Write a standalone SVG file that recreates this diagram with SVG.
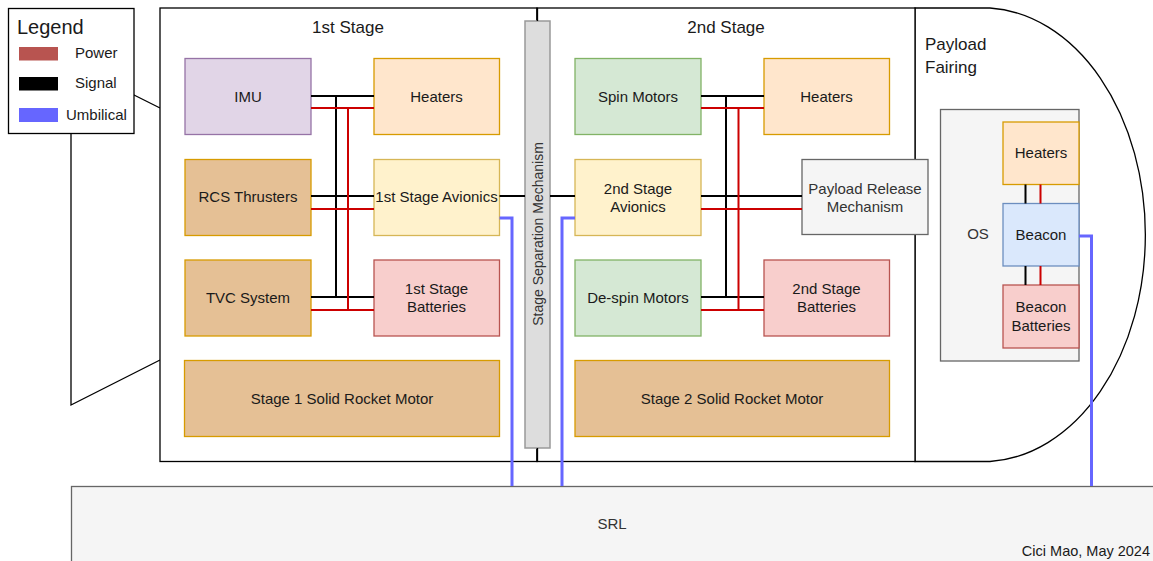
<svg xmlns="http://www.w3.org/2000/svg" width="1153" height="561" viewBox="0 0 1153 561">
  <style>
    text { font-family: "Liberation Sans", Arial, sans-serif; fill: #1a1a1a; }
    .lbl { font-size: 15px; text-anchor: middle; dominant-baseline: central; }
    .grey { fill: #333333; }
    .hdr { font-size: 17px; }
    .frame { fill: #ffffff; stroke: #000000; stroke-width: 1.3; }
    .purple { fill: #e1d5e7; stroke: #9673a6; stroke-width: 1.3; }
    .orange { fill: #ffe6cc; stroke: #d79b00; stroke-width: 1.3; }
    .tan { fill: #e5c095; stroke: #d79b00; stroke-width: 1.3; }
    .yellow { fill: #fff2cc; stroke: #d6b656; stroke-width: 1.3; }
    .pink { fill: #f8cecc; stroke: #b85450; stroke-width: 1.3; }
    .green { fill: #d5e8d4; stroke: #82b366; stroke-width: 1.3; }
    .blue { fill: #dae8fc; stroke: #6c8ebf; stroke-width: 1.3; }
    .light { fill: #f5f5f5; stroke: #666666; stroke-width: 1.3; }
    .sep { fill: #dddddd; stroke: #999999; stroke-width: 1.5; }
    .sig { fill: none; stroke: #000000; stroke-width: 2; }
    .pwr { fill: none; stroke: #cc0000; stroke-width: 2; }
    .umb { fill: none; stroke: #6666ff; stroke-width: 3; }
    .thin { fill: none; stroke: #000000; stroke-width: 1.3; }
  </style>

  <!-- launcher outline: nozzle, fairing -->
  <g id="nozzle">
    <path class="thin" d="M160,108 L71,63.5 L71,405 L160,360" fill="#ffffff"/>
  </g>
  <g id="fairing">
    <path class="frame" d="M915,8 L990,8 A163,227 0 0 1 990,461.5 L915,461.5 Z"/>
    <text class="hdr" x="925" y="50">Payload</text>
    <text class="hdr" x="925" y="73">Fairing</text>
  </g>

  <!-- stage frames -->
  <g id="stage1">
    <rect class="frame" x="160" y="8" width="377" height="453.5"/>
    <text class="hdr" x="348" y="33" text-anchor="middle">1st Stage</text>
  </g>
  <g id="stage2">
    <rect class="frame" x="537" y="8" width="378" height="453.5"/>
    <text class="hdr" x="726" y="33" text-anchor="middle">2nd Stage</text>
  </g>

  <!-- launch rail -->
  <g id="srl">
    <rect class="light" x="71.5" y="486.5" width="1100" height="100"/>
    <text class="lbl grey" x="612" y="523.5">SRL</text>
    <text x="1150" y="556" font-size="14.5" text-anchor="end">Cici Mao, May 2024</text>
  </g>

  <!-- stage 1 nodes -->
  <g id="imu"><rect class="purple" x="185" y="58.5" width="126" height="76"/><text class="lbl" x="248" y="96">IMU</text></g>
  <g id="heaters1"><rect class="orange" x="374" y="58.5" width="125.5" height="76"/><text class="lbl" x="436.5" y="96">Heaters</text></g>
  <g id="rcs"><rect class="tan" x="185" y="159.5" width="126" height="76"/><text class="lbl" x="248" y="196.5">RCS Thrusters</text></g>
  <g id="avionics1"><rect class="yellow" x="374" y="159.5" width="125.5" height="76"/><text class="lbl" x="436.5" y="196.5">1st Stage Avionics</text></g>
  <g id="tvc"><rect class="tan" x="185" y="260" width="126" height="76"/><text class="lbl" x="248" y="297">TVC System</text></g>
  <g id="batteries1"><rect class="pink" x="374" y="260" width="125.5" height="76"/><text class="lbl" x="436.5" y="288">1st Stage</text><text class="lbl" x="436.5" y="306">Batteries</text></g>
  <g id="srm1"><rect class="tan" x="184.5" y="360.5" width="315" height="76"/><text class="lbl" x="342" y="398">Stage 1 Solid Rocket Motor</text></g>

  <!-- separation mechanism -->
  <g id="separation">
    <rect class="sep" x="525" y="21" width="25" height="427"/>
    <text class="grey" font-size="14" text-anchor="middle" dominant-baseline="central" transform="translate(538,234) rotate(-90)">Stage Separation Mechanism</text>
  </g>

  <!-- stage 2 nodes -->
  <g id="spin"><rect class="green" x="575" y="58.5" width="126" height="76"/><text class="lbl" x="638" y="96">Spin Motors</text></g>
  <g id="heaters2"><rect class="orange" x="764" y="58.5" width="125.5" height="76"/><text class="lbl" x="826.5" y="96">Heaters</text></g>
  <g id="avionics2"><rect class="yellow" x="575" y="159.5" width="126" height="76"/><text class="lbl" x="638" y="188">2nd Stage</text><text class="lbl" x="638" y="206">Avionics</text></g>
  <g id="release"><rect class="light" x="802" y="159.5" width="126" height="75"/><text class="lbl grey" x="865" y="188">Payload Release</text><text class="lbl grey" x="865" y="206">Mechanism</text></g>
  <g id="despin"><rect class="green" x="575" y="260" width="126" height="76"/><text class="lbl" x="638" y="297">De-spin Motors</text></g>
  <g id="batteries2"><rect class="pink" x="764" y="260" width="125.5" height="76"/><text class="lbl" x="826.5" y="288">2nd Stage</text><text class="lbl" x="826.5" y="306">Batteries</text></g>
  <g id="srm2"><rect class="tan" x="575" y="360.5" width="314.5" height="76"/><text class="lbl" x="732" y="398">Stage 2 Solid Rocket Motor</text></g>

  <!-- payload -->
  <g id="os">
    <rect class="light" x="940.5" y="109.5" width="138.5" height="251.5"/>
    <text class="lbl grey" x="978" y="233.5">OS</text>
  </g>
  <g id="heaters-os"><rect class="orange" x="1003" y="122" width="76" height="62.5"/><text class="lbl" x="1041" y="152">Heaters</text></g>
  <g id="beacon"><rect class="blue" x="1003" y="203.5" width="76" height="62.5"/><text class="lbl" x="1041" y="234">Beacon</text></g>
  <g id="beacon-batteries"><rect class="pink" x="1003" y="285" width="76" height="63"/><text class="lbl" x="1041" y="306.5">Beacon</text><text class="lbl" x="1041" y="325">Batteries</text></g>

  <!-- connectors -->
  <g id="connectors">
    <!-- stage 1 bus -->
    <path class="sig" d="M311,96 H374 M311,196 H374 M311,297 H374 M336,96 V297"/>
    <path class="pwr" d="M311,108 H374 M311,209 H374 M311,310 H374 M348,108 V310"/>
    <!-- avionics link across separation -->
    <path class="sig" d="M499.5,196 H525 M550,196 H575"/>
    <!-- stage 2 bus -->
    <path class="sig" d="M701,96 H764 M701,196 H802 M701,297 H764 M726,96 V297"/>
    <path class="pwr" d="M701,108 H764 M701,209 H802 M701,310 H764 M738.5,108 V310"/>
    <!-- separation mechanism mounts -->
    <path class="thin" d="M537.5,8 V21 M537.5,448 V461.5"/>
    <!-- OS internal links -->
    <path class="sig" d="M1025.5,184.5 V203.5 M1025.5,266 V285"/>
    <path class="pwr" d="M1040.5,184.5 V203.5 M1040.5,266 V285"/>
    <!-- umbilicals -->
    <path class="umb" d="M499.5,218 H512 V486"/>
    <path class="umb" d="M575,218 H562 V486"/>
    <path class="umb" d="M1079,236 H1091.5 V486"/>
  </g>

  <!-- legend -->
  <g id="legend">
    <rect class="frame" x="8.5" y="8.5" width="125.5" height="125"/>
    <text x="17" y="34" font-size="20">Legend</text>
    <rect x="19" y="47" width="39" height="13.5" fill="#b85450"/>
    <text x="75" y="58" font-size="15">Power</text>
    <rect x="19" y="77" width="39" height="13.5" fill="#000000"/>
    <text x="75" y="88" font-size="15">Signal</text>
    <rect x="19" y="108" width="39" height="14" fill="#6666ff"/>
    <text x="66" y="119.5" font-size="15">Umbilical</text>
  </g>
</svg>
